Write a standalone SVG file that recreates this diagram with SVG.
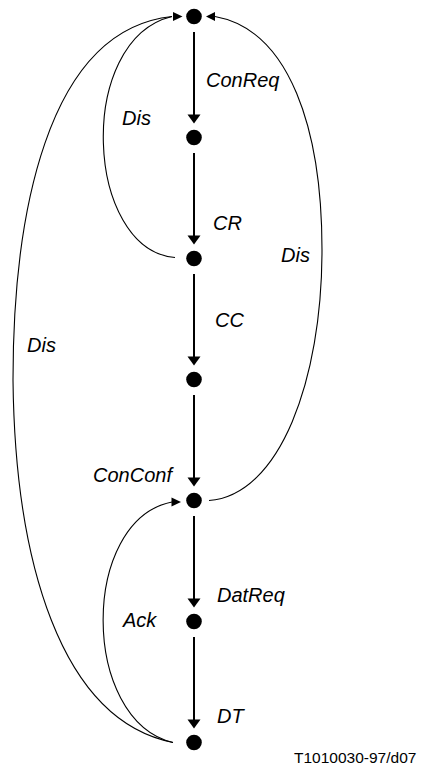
<svg xmlns="http://www.w3.org/2000/svg" width="421" height="767" viewBox="0 0 421 767">
<style>
.node{fill:#000}
.edge{stroke:#000;stroke-width:2;fill:none}
.curve{stroke:#000;stroke-width:1.1;fill:none}
.head{fill:#000;stroke:none}
.lbl{font-family:"Liberation Sans",Arial,sans-serif;font-style:italic;font-size:20px;fill:#000}
.cap{font-family:"Liberation Sans",Arial,sans-serif;font-size:15.5px;fill:#000}
</style>
<rect width="421" height="767" fill="#fff"/>
<g id="connectors">
  <line class="edge" x1="194" y1="32" x2="194" y2="116"/>
  <polygon class="head" points="187.5,114.5 200.5,114.5 194,123.5"/>
  <line class="edge" x1="194" y1="153" x2="194" y2="237"/>
  <polygon class="head" points="187.5,235.5 200.5,235.5 194,244.5"/>
  <line class="edge" x1="194" y1="274" x2="194" y2="358"/>
  <polygon class="head" points="187.5,356.5 200.5,356.5 194,365.5"/>
  <line class="edge" x1="194" y1="395" x2="194" y2="479"/>
  <polygon class="head" points="187.5,477.5 200.5,477.5 194,486.5"/>
  <line class="edge" x1="194" y1="516" x2="194" y2="600"/>
  <polygon class="head" points="187.5,598.5 200.5,598.5 194,607.5"/>
  <line class="edge" x1="194" y1="637" x2="194" y2="721"/>
  <polygon class="head" points="187.5,719.5 200.5,719.5 194,728.5"/>
  <!-- inner left Dis -->
  <path class="curve" d="M175,257.5 C85,250 75,40 172,16.5"/>
  <!-- outer left Dis -->
  <path class="curve" d="M173,742.5 C60,720 15,560 13,380 C13,220 45,30 172,16.5"/>
  <polygon class="head" points="173,12 173,21 182.5,16.5"/>
  <!-- right Dis -->
  <path class="curve" d="M209,500.5 C280,495 322,380 322,250 C322,130 290,30 215,16.5"/>
  <polygon class="head" points="215,12 215,21 206,16.5"/>
  <!-- Ack -->
  <path class="curve" d="M173,742.5 C80,720 80,520 172,502"/>
  <polygon class="head" points="171.5,497.5 171.5,506.5 181,502"/>
</g>
<g id="n1"><circle class="node" cx="194" cy="16.5" r="7.8"/></g>
<g id="n2"><circle class="node" cx="194" cy="137.5" r="7.8"/></g>
<g id="n3"><circle class="node" cx="194" cy="258.5" r="7.8"/></g>
<g id="n4"><circle class="node" cx="194" cy="379.5" r="7.8"/></g>
<g id="n5"><circle class="node" cx="194" cy="500.5" r="7.8"/></g>
<g id="n6"><circle class="node" cx="194" cy="621.5" r="7.8"/></g>
<g id="n7"><circle class="node" cx="194" cy="742.5" r="7.8"/></g>
<g id="labels">
  <text class="lbl" x="206" y="87">ConReq</text>
  <text class="lbl" x="122" y="125">Dis</text>
  <text class="lbl" x="213" y="230">CR</text>
  <text class="lbl" x="281" y="262">Dis</text>
  <text class="lbl" x="215" y="327">CC</text>
  <text class="lbl" x="27" y="352">Dis</text>
  <text class="lbl" x="93" y="482">ConConf</text>
  <text class="lbl" x="217" y="602">DatReq</text>
  <text class="lbl" x="123" y="627">Ack</text>
  <text class="lbl" x="217" y="723">DT</text>
  <text class="cap" x="294" y="763">T1010030-97/d07</text>
</g>
</svg>
